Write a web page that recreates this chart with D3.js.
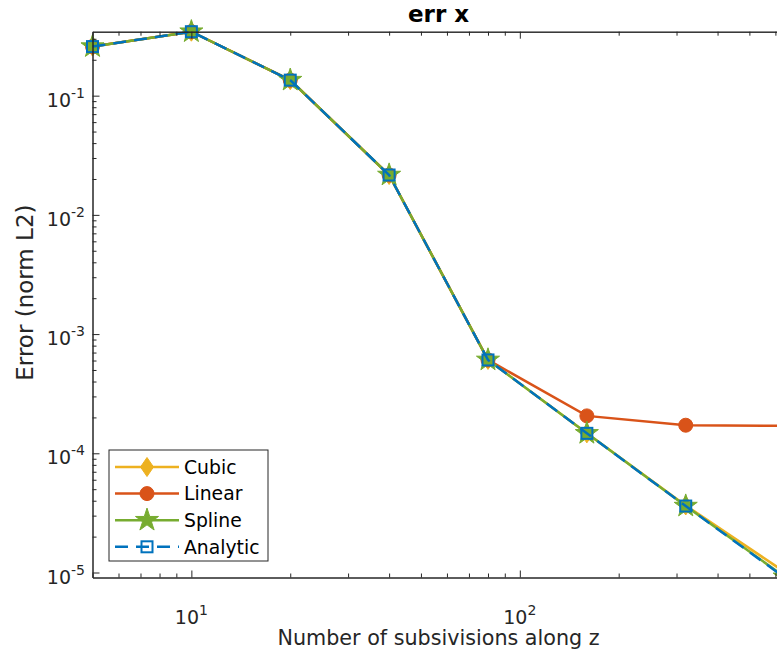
<!DOCTYPE html>
<html>
<head>
<meta charset="utf-8">
<script src="https://cdn.jsdelivr.net/npm/d3@7"></script>
<style>
  html, body { margin: 0; padding: 0; background: #fff; }
  svg { display: block; font-family: "DejaVu Sans", sans-serif; }
</style>
</head>
<body>
<svg id="chart" width="777" height="655"></svg>
<script>
// Number of subdivisions along z
const subdivisions = [5, 10, 20, 40, 80, 160, 320, 640];

// L2-norm error of each interpolation scheme
const cubicErr    = [0.258, 0.344, 0.135, 0.0216, 6.07e-4, 1.47e-4, 3.65e-5, 1.01e-5];
const linearErr   = [0.258, 0.344, 0.135, 0.0216, 6.07e-4, 2.06e-4, 1.72e-4, 1.70e-4];
const splineErr   = [0.258, 0.344, 0.135, 0.0216, 6.07e-4, 1.47e-4, 3.61e-5, 9.2e-6];
const analyticErr = [0.258, 0.344, 0.135, 0.0216, 6.07e-4, 1.47e-4, 3.61e-5, 9.08e-6];

const seriesNames = ["Cubic", "Linear", "Spline", "Analytic"];

const series = [
  { name: seriesNames[0], values: cubicErr,    color: "#EDB120", marker: "diamond", dash: null },
  { name: seriesNames[1], values: linearErr,   color: "#D95319", marker: "circle",  dash: null },
  { name: seriesNames[2], values: splineErr,   color: "#77AC30", marker: "star",    dash: null },
  { name: seriesNames[3], values: analyticErr, color: "#0072BD", marker: "square",  dash: "13,8" }
];

const axisColor = "#262626";
const box = { left: 92.5, right: 784.6, top: 31.7, bottom: 577.5 };
const lineWidth = 2.5;

const svg = d3.select("#chart");

const allVals = series.flatMap(s => s.values);
const x = d3.scaleLog().domain(d3.extent(subdivisions)).range([box.left, box.right]);
const y = d3.scaleLog().domain(d3.extent(allVals)).range([box.bottom, box.top]);

const isMajor = v => Math.abs(Math.log10(v) - Math.round(Math.log10(v))) < 1e-9;
const xAll = x.ticks();
const yAll = y.ticks();
const xMajor = xAll.filter(isMajor), xMinor = xAll.filter(v => !isMajor(v));
const yMajor = yAll.filter(isMajor), yMinor = yAll.filter(v => !isMajor(v));

const majorLen = 7, minorLen = 4;

function styleAxis(g) {
  g.selectAll("path.domain").attr("stroke", axisColor).attr("stroke-width", 1);
  g.selectAll(".tick line").attr("stroke", axisColor).attr("stroke-width", 1);
  g.selectAll(".tick text").remove();
}

// Series lines and markers
const line = d3.line().x((d, i) => x(subdivisions[i])).y(d => y(d));

function drawMarker(g, kind, color, cx, cy) {
  if (kind === "diamond") {
    const w = 6.5, h = 9.5;
    g.append("path")
      .attr("d", `M${cx},${cy - h}L${cx + w},${cy}L${cx},${cy + h}L${cx - w},${cy}Z`)
      .attr("fill", color).attr("stroke", color).attr("stroke-width", 1);
  } else if (kind === "circle") {
    g.append("circle").attr("cx", cx).attr("cy", cy).attr("r", 7)
      .attr("fill", color).attr("stroke", color).attr("stroke-width", 1);
  } else if (kind === "star") {
    g.append("path").attr("d", d3.symbol().type(d3.symbolStar).size(165)())
      .attr("transform", `translate(${cx},${cy})`)
      .attr("fill", color).attr("stroke", color).attr("stroke-width", 1);
  } else if (kind === "square") {
    const s = 5.5;
    g.append("rect").attr("x", cx - s).attr("y", cy - s).attr("width", 2 * s).attr("height", 2 * s)
      .attr("fill", "none").attr("stroke", color).attr("stroke-width", 2);
  }
}

const plot = svg.append("g");
series.forEach(s => {
  const g = plot.append("g");
  g.append("path").datum(s.values)
    .attr("d", line)
    .attr("fill", "none")
    .attr("stroke", s.color)
    .attr("stroke-width", lineWidth)
    .attr("stroke-dasharray", s.dash);
  s.values.forEach((v, i) => drawMarker(g, s.marker, s.color, x(subdivisions[i]), y(v)));
});

// Axes (ticks pointing inward, box on)
svg.append("g").attr("transform", `translate(0,${box.bottom})`)
  .call(d3.axisBottom(x).tickValues(xMajor).tickSize(-majorLen).tickSizeOuter(0)).call(styleAxis);
svg.append("g").attr("transform", `translate(0,${box.bottom})`)
  .call(d3.axisBottom(x).tickValues(xMinor).tickSize(-minorLen).tickSizeOuter(0)).call(styleAxis);
svg.append("g").attr("transform", `translate(0,${box.top})`)
  .call(d3.axisTop(x).tickValues(xMajor).tickSize(-majorLen).tickSizeOuter(0)).call(styleAxis);
svg.append("g").attr("transform", `translate(0,${box.top})`)
  .call(d3.axisTop(x).tickValues(xMinor).tickSize(-minorLen).tickSizeOuter(0)).call(styleAxis);
svg.append("g").attr("transform", `translate(${box.left},0)`)
  .call(d3.axisLeft(y).tickValues(yMajor).tickSize(-majorLen).tickSizeOuter(0)).call(styleAxis);
svg.append("g").attr("transform", `translate(${box.left},0)`)
  .call(d3.axisLeft(y).tickValues(yMinor).tickSize(-minorLen).tickSizeOuter(0)).call(styleAxis);
svg.append("g").attr("transform", `translate(${box.right},0)`)
  .call(d3.axisRight(y).tickValues(yMajor).tickSize(-majorLen).tickSizeOuter(0)).call(styleAxis);

// Tick labels as 10^n
const tickFont = 19, supFont = 14;
function powerLabel(sel, v) {
  const e = Math.round(Math.log10(v));
  sel.append("tspan").text("10");
  sel.append("tspan").attr("font-size", supFont).attr("dy", -9).text(String(e));
}
xMajor.forEach(v => {
  const t = svg.append("text")
    .attr("x", x(v)).attr("y", 624)
    .attr("text-anchor", "middle")
    .attr("font-size", tickFont).attr("fill", axisColor);
  powerLabel(t, v);
});
yMajor.forEach(v => {
  const t = svg.append("text")
    .attr("x", 85).attr("y", y(v) + 11)
    .attr("text-anchor", "end")
    .attr("font-size", tickFont).attr("fill", axisColor);
  powerLabel(t, v);
});

// Title and axis labels
svg.append("text")
  .attr("x", (box.left + box.right) / 2).attr("y", 22)
  .attr("text-anchor", "middle")
  .attr("font-size", 23).attr("font-weight", "bold").attr("fill", "#000")
  .text("err x");
svg.append("text")
  .attr("x", (box.left + box.right) / 2).attr("y", 645)
  .attr("text-anchor", "middle")
  .attr("font-size", 20.7).attr("fill", axisColor)
  .text("Number of subsivisions along z");
svg.append("text")
  .attr("transform", `translate(33,${(box.top + box.bottom) / 2 - 12}) rotate(-90)`)
  .attr("text-anchor", "middle")
  .attr("font-size", 23).attr("fill", axisColor)
  .text("Error (norm L2)");

// Legend
const legend = svg.append("g");
legend.append("rect")
  .attr("x", 109).attr("y", 450).attr("width", 159).attr("height", 111)
  .attr("fill", "#fff").attr("stroke", axisColor).attr("stroke-width", 1);
series.forEach((s, i) => {
  const ly = 467 + i * 26.6;
  legend.append("line")
    .attr("x1", 115).attr("x2", 179).attr("y1", ly).attr("y2", ly)
    .attr("stroke", s.color).attr("stroke-width", lineWidth)
    .attr("stroke-dasharray", s.dash);
  drawMarker(legend, s.marker, s.color, 147, ly);
  legend.append("text")
    .attr("x", 184).attr("y", ly).attr("dy", "0.36em")
    .attr("font-size", 18.8).attr("fill", "#000")
    .text(s.name);
});
</script>
</body>
</html>
